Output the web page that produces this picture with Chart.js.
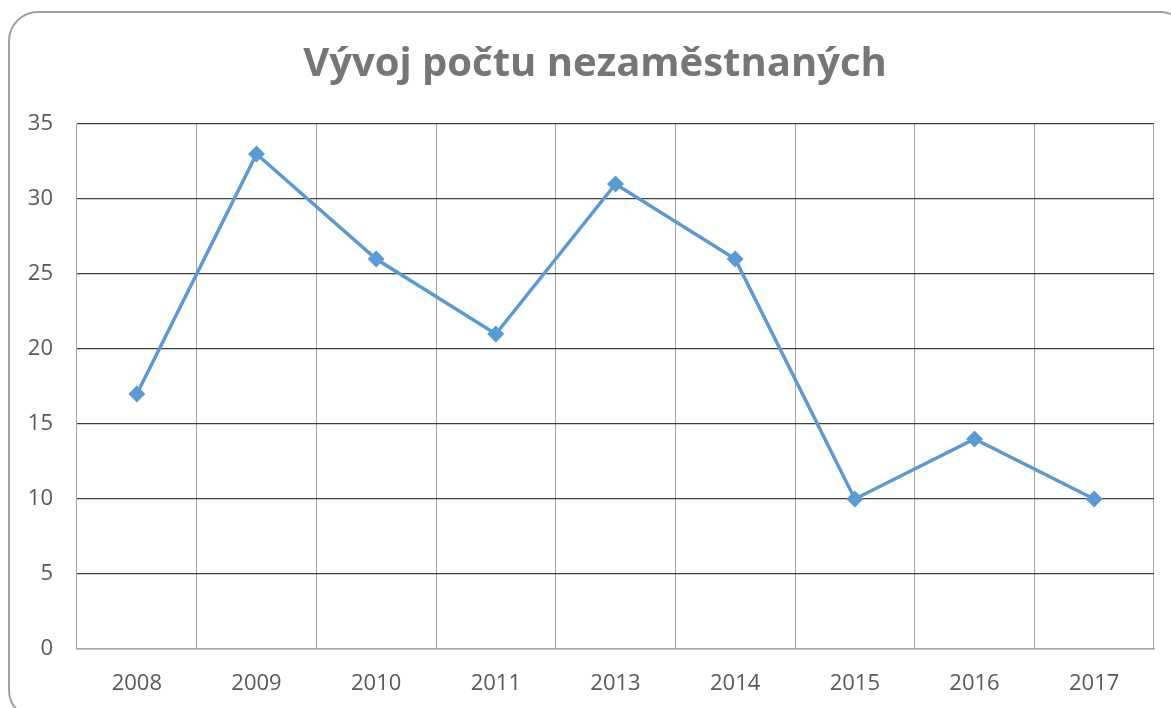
<!DOCTYPE html>
<html>
<head>
<meta charset="utf-8">
<script src="https://cdn.jsdelivr.net/npm/chart.js@4"></script>
<style>
  html, body { margin: 0; padding: 0; background: #fff; overflow: hidden; }
  #frame {
    position: absolute; left: 8px; top: 11px; width: 1182px; height: 709px;
    border: 2px solid #a0a0a0; border-radius: 30px; box-sizing: border-box;
  }
  #chart { position: absolute; left: 0; top: 0; }
</style>
</head>
<body>
<div id="frame"></div>
<canvas id="chart" width="1171" height="708"></canvas>
<script>
// Chart data
const years = ['2008', '2009', '2010', '2011', '2013', '2014', '2015', '2016', '2017'];
const unemployed = [17, 33, 26, 21, 31, 26, 10, 14, 10];
const chartTitle = 'Vývoj počtu nezaměstnaných';

const font = "'Open Sans', 'Liberation Sans', sans-serif";

// center the title on the rounded frame rather than on the padded canvas
const centerTitle = {
    id: 'centerTitle',
    afterLayout(chart) {
        chart.titleBlock.left = 8;
        chart.titleBlock.right = 1182;
    }
};

const ctx = document.getElementById('chart').getContext('2d');
new Chart(ctx, {
    type: 'line',
    data: {
        labels: years,
        datasets: [{
            data: unemployed,
            borderColor: '#5B9BD5',
            backgroundColor: '#5B9BD5',
            borderWidth: 3.5,
            pointStyle: 'rectRot',
            pointRadius: 6,
            pointHoverRadius: 6,
            tension: 0
        }]
    },
    plugins: [centerTitle],
    options: {
        responsive: false,
        animation: false,
        layout: { padding: { left: 0, right: 17, top: 0, bottom: 0 } },
        plugins: {
            legend: { display: false },
            tooltip: { enabled: false },
            title: {
                display: true,
                text: chartTitle,
                color: '#767676',
                font: { family: font, size: 40, weight: 'bold', lineHeight: 1.2 },
                padding: { top: 41, bottom: 35 }
            }
        },
        scales: {
            x: {
                offset: true,
                grid: { offset: true, color: '#a6a6a6', lineWidth: 1, drawTicks: false },
                border: { color: '#a6a6a6', width: 1.5 },
                ticks: { color: '#595959', font: { family: font, size: 22 }, padding: 22 },
                afterFit: scale => { scale.height = 59; }
            },
            y: {
                min: 0,
                max: 35,
                ticks: { stepSize: 5, color: '#595959', font: { family: font, size: 22 }, padding: 24 },
                grid: {
                    color: c => c.tick.value === 0 ? '#a6a6a6' : '#404040',
                    lineWidth: 1.2,
                    drawTicks: false
                },
                border: { display: false },
                afterFit: scale => { scale.width = 77; }
            }
        }
    }
});
</script>
</body>
</html>
